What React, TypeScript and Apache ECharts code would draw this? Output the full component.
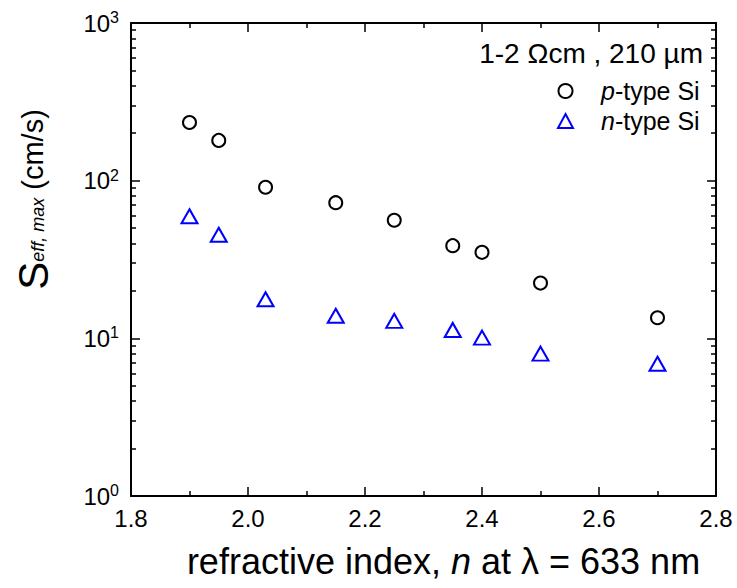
import React, { useEffect, useRef } from "react";
import * as echarts from "echarts";

const refractiveIndex = [1.9, 1.95, 2.03, 2.15, 2.25, 2.35, 2.4, 2.5, 2.7];
const pTypeS = [234, 180, 90.8, 72.5, 56.1, 38.7, 35.1, 22.4, 13.5];
const nTypeS = [59.5, 45.4, 17.7, 13.9, 12.9, 11.3, 10.1, 8.0, 6.9];
const yMajorTicks = [1, 10, 100, 1000];
const yMinorTicks = [2, 3, 4, 5, 6, 7, 8, 9, 20, 30, 40, 50, 60, 70, 80, 90, 200, 300, 400, 500, 600, 700, 800, 900];
const seriesNames = ["p-type Si", "n-type Si"];
const headerText = "1-2 \u03A9cm , 210 \u00B5m";

const FONT = "'Liberation Sans', Arial, sans-serif";

export default function App() {
  const ref = useRef<HTMLDivElement>(null);
  useEffect(() => {
    if (!ref.current) return;
    const chart = echarts.init(ref.current, null, { renderer: "svg" });
    const axisLine = { show: true, lineStyle: { color: "#000", width: 2 } };
    const yBase = {
      type: "log" as const,
      logBase: 10,
      min: 1,
      max: 1000,
      splitLine: { show: false },
    };
    const option: any = {
      animation: false,
      backgroundColor: "#fff",
      textStyle: { fontFamily: FONT },
      title: {
        text: headerText,
        right: 29,
        top: 34,
        textStyle: { fontFamily: FONT, fontSize: 28, fontWeight: "normal", color: "#000" },
      },
      legend: {
        orient: "vertical",
        left: 552,
        top: 72,
        align: "left",
        itemWidth: 15,
        itemHeight: 14,
        itemGap: 2,
        data: seriesNames,
        formatter: (name: string) => {
          const first = name.charAt(0);
          return "{g|}{i|" + first + "}{r|" + name.slice(1) + "}";
        },
        textStyle: {
          fontFamily: FONT,
          fontSize: 25,
          color: "#000",
          lineHeight: 28,
          rich: {
            g: { width: 23 },
            i: { fontFamily: FONT, fontSize: 25, fontStyle: "italic", color: "#000" },
            r: { fontFamily: FONT, fontSize: 25, color: "#000" },
          },
        },
      },
      grid: { left: 131, right: 21, top: 23, bottom: 92, containLabel: false },
      xAxis: [
        {
          type: "value",
          position: "bottom",
          min: 1.8,
          max: 2.8,
          interval: 0.2,
          axisLine,
          axisTick: { show: true, inside: true, length: 9, lineStyle: { color: "#000", width: 1.5 } },
          minorTick: { show: true, splitNumber: 2, length: 5, lineStyle: { color: "#000", width: 1.5 } },
          splitLine: { show: false },
          axisLabel: {
            color: "#000",
            fontFamily: FONT,
            fontSize: 24,
            margin: 10,
            formatter: (v: number) => v.toFixed(1),
          },
          name: "refractive index, {i|n} at \u03BB = 633 nm",
          nameLocation: "middle",
          nameGap: 47,
          nameTextStyle: {
            color: "#000",
            fontFamily: FONT,
            fontSize: 36,
            padding: [0, 0, 0, 40],
            rich: {
              i: { fontFamily: FONT, fontSize: 36, fontStyle: "italic", color: "#000" },
            },
          },
        },
        {
          type: "value",
          position: "top",
          min: 1.8,
          max: 2.8,
          interval: 0.2,
          axisLine,
          axisTick: { show: true, inside: true, length: 9, lineStyle: { color: "#000", width: 1.5 } },
          minorTick: { show: true, splitNumber: 2, length: 5, lineStyle: { color: "#000", width: 1.5 } },
          splitLine: { show: false },
          axisLabel: { show: false },
        },
      ],
      yAxis: [
        {
          ...yBase,
          position: "left",
          axisLine,
          axisTick: {
            show: true,
            inside: true,
            length: 9,
            customValues: yMajorTicks,
            lineStyle: { color: "#000", width: 1.5 },
          },
          axisLabel: {
            customValues: yMajorTicks,
            margin: 12,
            formatter: (v: number) => "{b|10}{s|" + Math.round(Math.log10(v)) + "}",
            rich: {
              b: { fontFamily: FONT, fontSize: 24, color: "#000" },
              s: { fontFamily: FONT, fontSize: 16, color: "#000", padding: [0, 0, 11, 0] },
            },
          },
          name: "{s|S}{sub|eff, max}{n| (cm/s)}",
          nameLocation: "middle",
          nameRotate: 90,
          nameGap: 68,
          nameTextStyle: {
            padding: [0, 0, 0, 120],
            rich: {
              s: { fontFamily: FONT, fontSize: 42, color: "#000", padding: [0, 0, 9, 0] },
              sub: { fontFamily: FONT, fontSize: 18, fontStyle: "italic", color: "#000" },
              n: { fontFamily: FONT, fontSize: 29, color: "#000", padding: [0, 0, 9, 0] },
            },
          },
        },
        {
          ...yBase,
          position: "left",
          axisLine: { show: false },
          axisTick: {
            show: true,
            inside: true,
            length: 5,
            customValues: yMinorTicks,
            lineStyle: { color: "#000", width: 1.5 },
          },
          axisLabel: { show: false },
        },
        {
          ...yBase,
          position: "right",
          axisLine,
          axisTick: {
            show: true,
            inside: true,
            length: 9,
            customValues: yMajorTicks,
            lineStyle: { color: "#000", width: 1.5 },
          },
          axisLabel: { show: false },
        },
        {
          ...yBase,
          position: "right",
          axisLine: { show: false },
          axisTick: {
            show: true,
            inside: true,
            length: 5,
            customValues: yMinorTicks,
            lineStyle: { color: "#000", width: 1.5 },
          },
          axisLabel: { show: false },
        },
      ],
      series: [
        {
          name: seriesNames[0],
          type: "scatter",
          xAxisIndex: 0,
          yAxisIndex: 0,
          symbol: "circle",
          symbolSize: 13,
          itemStyle: { color: "rgba(255,255,255,0)", borderColor: "#000", borderWidth: 2, opacity: 1 },
          data: refractiveIndex.map((x, i) => [x, pTypeS[i]]),
        },
        {
          name: seriesNames[1],
          type: "scatter",
          xAxisIndex: 0,
          yAxisIndex: 0,
          symbol: "triangle",
          symbolSize: [16, 14],
          itemStyle: { color: "rgba(255,255,255,0)", borderColor: "#0000ff", borderWidth: 2, opacity: 1 },
          data: refractiveIndex.map((x, i) => [x, nTypeS[i]]),
        },
      ],
    };
    chart.setOption(option);
    return () => chart.dispose();
  }, []);
  return (
    <div
      ref={ref}
      style={{ position: "fixed", left: 0, top: 0, width: 737, height: 588, background: "#fff" }}
    />
  );
}
